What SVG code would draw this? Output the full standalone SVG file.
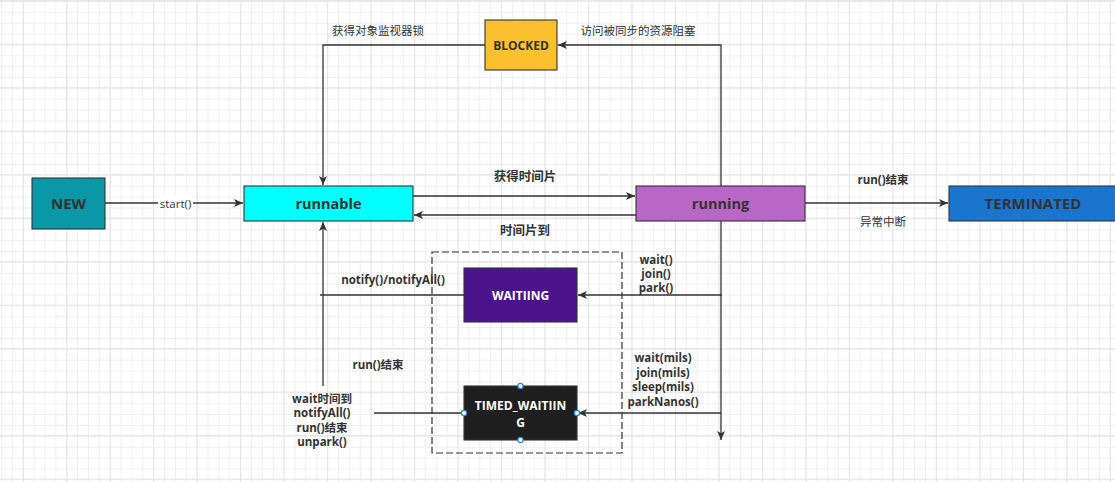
<svg xmlns="http://www.w3.org/2000/svg" width="1115" height="482" viewBox="0 0 1115 482">
<defs>
<style>
.node{stroke:#333;stroke-width:1.1}
.edge{fill:none;stroke:#333;stroke-width:1.3}
.nl{font-family:"Open Sans","Noto Sans CJK SC",sans-serif;font-weight:700;text-anchor:middle;fill:#333}
.wl{fill:#fff}
.el{font-family:"Open Sans","Noto Sans CJK SC",sans-serif;font-size:11.5px;text-anchor:middle;fill:#333}
.b{font-weight:700}
.big{font-size:12.5px}
.handle{fill:#fff;stroke:#2a86e8;stroke-width:1.2}
</style>
<pattern id="gmin" patternUnits="userSpaceOnUse" x="1" y="1" width="10.87" height="10.87">
<path d="M0 0.5H10.87M0.5 0V10.87" stroke="#efefef" stroke-width="1" fill="none"/>
</pattern>
<pattern id="gmaj" patternUnits="userSpaceOnUse" x="22.8" y="0.3" width="43.48" height="43.48">
<path d="M0 0.5H43.48M0.5 0V43.48" stroke="#e4e4e4" stroke-width="1" fill="none"/>
</pattern>
<marker id="arr" markerUnits="userSpaceOnUse" markerWidth="12" markerHeight="10" refX="9" refY="4" orient="auto">
<path d="M0,0 L9,4 L0,8 L2.2,4 Z" fill="#333"/>
</marker>
</defs>
<rect width="1115" height="482" fill="#fff"/>
<rect width="1115" height="482" fill="url(#gmin)"/>
<rect width="1115" height="482" fill="url(#gmaj)"/>
<rect width="1115" height="2" fill="#e8e8e8"/>

<g id="container">
<rect x="432" y="252" width="190" height="201" fill="none" stroke="#333" stroke-width="1.2" stroke-dasharray="7 3"/>
</g>

<g id="connectors">
<path class="edge" d="M105 203H243" marker-end="url(#arr)"/>
<path class="edge" d="M413 196H635" marker-end="url(#arr)"/>
<path class="edge" d="M636 215H414" marker-end="url(#arr)"/>
<path class="edge" d="M805 203H948" marker-end="url(#arr)"/>
<path class="edge" d="M721 186V45H558" marker-end="url(#arr)"/>
<path class="edge" d="M485 45H323V185" marker-end="url(#arr)"/>
<path class="edge" d="M721 221V440" marker-end="url(#arr)"/>
<path class="edge" d="M722 295H578" marker-end="url(#arr)"/>
<path class="edge" d="M721 413H578" marker-end="url(#arr)"/>
<path class="edge" d="M464 295H320"/>
<path class="edge" d="M323 386V222" marker-end="url(#arr)"/>
<path class="edge" d="M464 413H374"/>
</g>

<g id="edge-labels">
<rect x="158" y="196" width="35" height="14" fill="#fff"/>
<text class="el" x="175.5" y="207.5">start()</text>
<text class="el" x="378" y="35">获得对象监视器锁</text>
<text class="el" x="638" y="35">访问被同步的资源阻塞</text>
<text class="el b big" x="525" y="180.5">获得时间片</text>
<text class="el b big" x="525" y="234.5">时间片到</text>
<text class="el b" x="883" y="184">run()结束</text>
<text class="el" x="883" y="226">异常中断</text>
<text class="el b" x="393" y="284">notify()/notifyAll()</text>
<text class="el b" x="656" y="264">wait()</text>
<text class="el b" x="656" y="278">join()</text>
<text class="el b" x="656" y="292">park()</text>
<text class="el b" x="663" y="362">wait(mils)</text>
<text class="el b" x="663" y="377">join(mils)</text>
<text class="el b" x="663" y="391">sleep(mils)</text>
<text class="el b" x="663" y="406">parkNanos()</text>
<text class="el b" x="378" y="369">run()结束</text>
<text class="el b" x="322" y="403">wait时间到</text>
<text class="el b" x="322" y="417">notifyAll()</text>
<text class="el b" x="322" y="432">run()结束</text>
<text class="el b" x="322" y="446">unpark()</text>
</g>

<g id="NEW">
<rect class="node" x="32" y="178" width="73" height="51" fill="#0A97A6"/>
<text class="nl" x="68.5" y="209" font-size="15">NEW</text>
</g>
<g id="runnable">
<rect class="node" x="244" y="186" width="169" height="35" fill="#00FFFF"/>
<text class="nl" x="328.5" y="209" font-size="14.5">runnable</text>
</g>
<g id="running">
<rect class="node" x="636" y="186" width="169" height="35" fill="#B967C7"/>
<text class="nl" x="720.5" y="209" font-size="14.5">running</text>
</g>
<g id="TERMINATED">
<rect class="node" x="949" y="186" width="175" height="35" fill="#1A75CF"/>
<text class="nl" x="1033" y="209" font-size="15">TERMINATED</text>
</g>
<g id="BLOCKED">
<rect class="node" x="485" y="20" width="72" height="50" fill="#FBC02D"/>
<text class="nl" x="521" y="49.5" font-size="12">BLOCKED</text>
</g>
<g id="WAITIING">
<rect class="node" x="464" y="268" width="113" height="54" fill="#4A148C"/>
<text class="nl wl" x="520.5" y="299.5" font-size="12">WAITIING</text>
</g>
<g id="TIMED_WAITIING">
<rect class="node" x="464" y="386" width="113" height="54" fill="#1F1F1F"/>
<text class="nl wl" x="520.5" y="410" font-size="12">TIMED_WAITIIN</text>
<text class="nl wl" x="520.5" y="426.5" font-size="12">G</text>
<circle class="handle" cx="520.5" cy="386" r="2.6"/>
<circle class="handle" cx="464" cy="413" r="2.6"/>
<circle class="handle" cx="577" cy="413" r="2.6"/>
<circle class="handle" cx="520.5" cy="440" r="2.6"/>
</g>
</svg>
